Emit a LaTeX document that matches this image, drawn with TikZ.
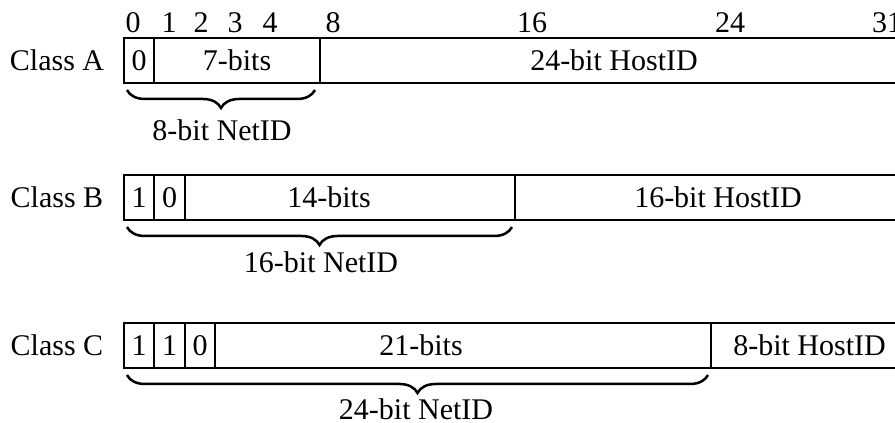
\documentclass[tikz,border=0pt]{standalone}
\usepackage{fontspec}
\setmainfont{Liberation Serif}
\usepackage{tikz}
\usetikzlibrary{decorations.pathreplacing, positioning}

\begin{document}
\begin{tikzpicture}[
  x = 1pt, y = 1pt,
  font = \fontsize{30}{36}\selectfont,
  cell/.style  = {rectangle, draw, line width=2.5pt, minimum height=45pt,
                  inner sep=0pt, outer sep=0pt, anchor=south west},
  bitno/.style = {anchor=base, inner sep=0pt},
  cls/.style   = {inner sep=0pt},
  txt/.style   = {inner sep=0pt},
  brc/.style   = {decorate, decoration={brace, mirror, amplitude=18pt},
                  line width=2.5pt},
]
\useasboundingbox (0,0) rectangle (895,423);
\clip (0,0) rectangle (895,423);

% bit positions
\node[bitno] (n0)  at (133,390) {0};
\node[bitno] (n1)  at (169,390) {1};
\node[bitno] (n2)  at (201,390) {2};
\node[bitno] (n3)  at (235,390) {3};
\node[bitno] (n4)  at (270,390) {4};
\node[bitno] (n8)  at (333,390) {8};
\node[bitno] (n16) at (532,390) {16};
\node[bitno] (n24) at (730,390) {24};
\node[bitno] (n31) at (887,390) {31};

% class A
\node[cls] (ca) at (57,362.5) {Class A};
\node[cell, minimum width=30pt]  (a0) at (124,340) {0};
\node[cell, minimum width=166pt] (a7) at (154,340) {7-bits};
\node[cell, minimum width=588pt] (ah) at (320,340) {24-bit HostID};
\draw[brc] ([shift={(3,-7)}]a0.south west) -- ([shift={(-5,-7)}]a7.south east);
\node[txt] (anet) at (222,293) {8-bit NetID};

% class B
\node[cls] (cb) at (57,225.5) {Class B};
\node[cell, minimum width=30pt]  (b1) at (124,203) {1};
\node[cell, minimum width=31pt]  (b0) at (154,203) {0};
\node[cell, minimum width=330pt] (bn) at (185,203) {};
\node[txt] (bntxt) at (329,225.5) {14-bits};
\node[cell, minimum width=393pt] (bh) at (515,203) {};
\node[txt] (bhtxt) at (718,225.5) {16-bit HostID};
\draw[brc] ([shift={(3,-7)}]b1.south west) -- ([shift={(-3,-7)}]bn.south east);
\node[txt] (bnet) at (321,161) {16-bit NetID};

% class C
\node[cls] (cc) at (57,77.5) {Class C};
\node[cell, minimum width=30pt]  (c1) at (124,55) {1};
\node[cell, minimum width=31pt]  (c2) at (154,55) {1};
\node[cell, minimum width=30pt]  (c0) at (185,55) {0};
\node[cell, minimum width=496pt] (cn) at (215,55) {};
\node[txt] (cntxt) at (421,77.5) {21-bits};
\node[cell, minimum width=197pt] (ch) at (711,55) {8-bit HostID};
\draw[brc] ([shift={(3,-7)}]c1.south west) -- ([shift={(-3,-7)}]cn.south east);
\node[txt] (cnet) at (416,14) {24-bit NetID};
\end{tikzpicture}
\end{document}
